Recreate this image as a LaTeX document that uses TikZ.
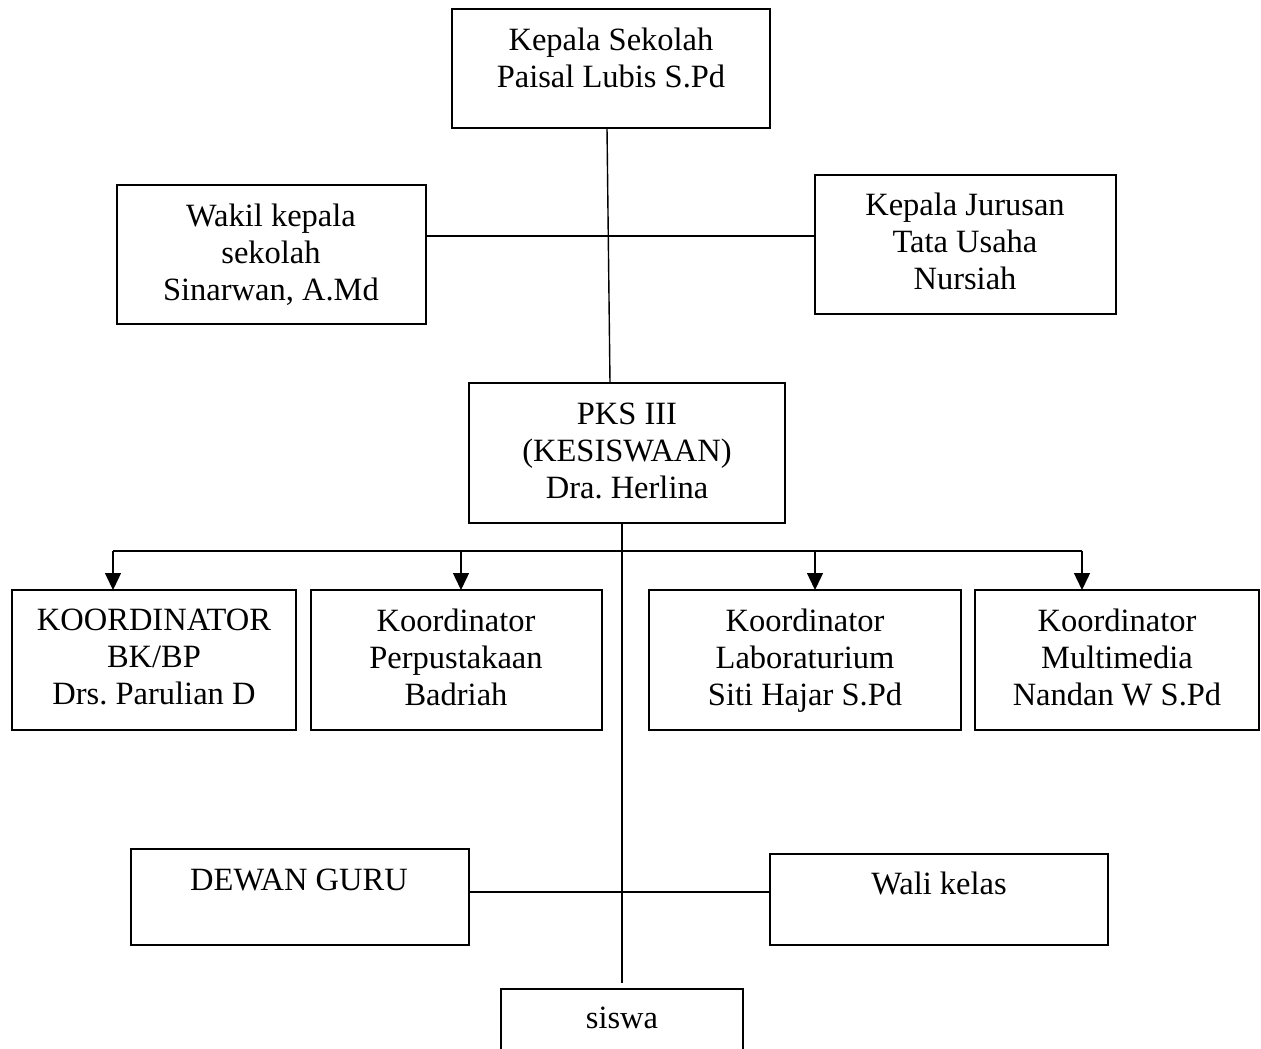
\documentclass[tikz,border=0pt]{standalone}
\usepackage{fontspec}
\setmainfont{Liberation Serif}
\frenchspacing
\usetikzlibrary{arrows.meta,calc}
\tikzset{
  box/.style={draw, line width=1.4pt, inner sep=0pt, outer sep=0pt},
  txt/.style={align=center, inner sep=0pt, anchor=north, font=\fontsize{32.5}{37}\selectfont},
  conn/.style={line width=1.4pt},
  arr/.style={line width=1.4pt, -{Triangle[length=17pt,width=16pt]}}
}
\newcommand{\bx}[5]{% name, x1, y1, x2, y2
  \node[box, minimum width={#4-#2}, minimum height={#5-#3}] (#1) at ({(#2+#4)/2},{(#3+#5)/2}) {};}
\begin{document}
\begin{tikzpicture}[x=1pt,y=-1pt]
\useasboundingbox (0,0) rectangle (1261,1049);
\clip (0,0) rectangle (1261,1049);
% boxes
\bx{ks}{452}{9}{770}{128}
\bx{wk}{117}{185}{426}{324}
\bx{kj}{815}{175}{1116}{314}
\bx{pks}{469}{383}{785}{523}
\bx{ka}{12}{590}{296}{730}
\bx{kb}{311}{590}{602}{730}
\bx{kc}{649}{590}{961}{730}
\bx{kd}{975}{590}{1259}{730}
\bx{dg}{131}{849}{469}{945}
\bx{wl}{770}{854}{1108}{945}
\bx{sw}{501}{989}{743}{1070}
% texts
\node[txt] (tks) at (611,28) {Kepala Sekolah\\Paisal Lubis S.Pd};
\node[txt] (twk) at (271,204) {Wakil kepala\\sekolah\\Sinarwan, A.Md};
\node[txt] (tkj) at (965,193) {Kepala Jurusan\\Tata Usaha\\Nursiah};
\node[txt] (tpks) at (627,403) {PKS III\\(KESISWAAN)\\Dra. Herlina};
\node[txt] (tka) at (154,609) {KOORDINATOR\\BK/BP\\Drs. Parulian D};
\node[txt] (tkb) at (456,609) {Koordinator\\Perpustakaan\\Badriah};
\node[txt] (tkc) at (805,609) {Koordinator\\Laboraturium\\Siti Hajar S.Pd};
\node[txt] (tkd) at (1117,609) {Koordinator\\Multimedia\\Nandan W S.Pd};
\node[txt] (tdg) at (299,869) {DEWAN GURU};
\node[txt] (twl) at (939,872) {Wali kelas};
\node[txt] (tsw) at (622,1007) {siswa};
% connectors
\coordinate (hl) at (0,236);
\coordinate (bl) at (0,892);
\coordinate (a1) at (113,551);
\coordinate (a2) at (461,551);
\coordinate (a3) at (815,551);
\coordinate (a4) at (1082,551);
\draw[conn] ([xshift=-4pt]ks.south) -- ([xshift=-17pt]pks.north);
\draw[conn] (wk.east |- hl) -- (kj.west |- hl);
\draw[conn] (sw.north |- pks.south) -- ([yshift=6pt]sw.north);
\draw[conn] (a1) -- (a4);
\draw[arr] (a1) -- (a1 |- ka.north);
\draw[arr] (a2) -- (a2 |- kb.north);
\draw[arr] (a3) -- (a3 |- kc.north);
\draw[arr] (a4) -- (a4 |- kd.north);
\draw[conn] (dg.east |- bl) -- (wl.west |- bl);
\end{tikzpicture}
\end{document}
